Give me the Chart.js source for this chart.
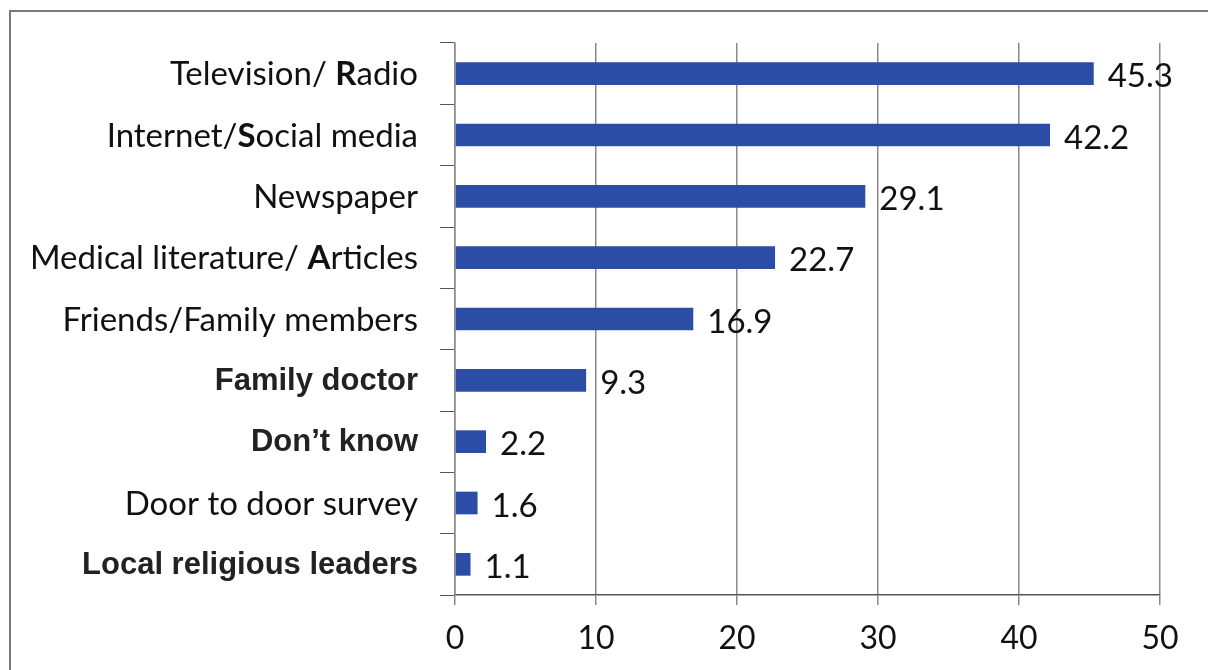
<!DOCTYPE html>
<html lang="en">
<head>
    <meta charset="UTF-8">
    <title>Sources of information</title>
    <script src="https://cdn.jsdelivr.net/npm/chart.js"></script>
    <style>
        body { margin: 0; padding: 0; background: #fff; }
        #wrap { width: 1208px; height: 670px; }
    </style>
</head>
<body>
    <div id="wrap"><canvas id="sourceChart" width="1208" height="670"></canvas></div>

    <script>
        // Data
        const categories = [
            'Television/ Radio', 'Internet/Social media', 'Newspaper',
            'Medical literature/ Articles', 'Friends/Family members',
            'Family doctor', 'Don\u2019t know', 'Door to door survey',
            'Local religious leaders'
        ];
        const percentages = [45.3, 42.2, 29.1, 22.7, 16.9, 9.3, 2.2, 1.6, 1.1];
        const xTicks = [0, 10, 20, 30, 40, 50];

        // label styling seen in the original
        const boldRows = [5, 6, 8];                 // whole label in Arial bold
        const boldLetter = { 0: 'R', 1: 'S', 3: 'A' }; // one bold capital after the slash

        const normalFont = '33px Lato';
        const letterFont = 'bold 33px Lato';
        const arialBold = 'bold 31px "Liberation Sans"';

        // gray frame around the whole chart
        const framePlugin = {
            id: 'frame',
            beforeDraw(chart) {
                const ctx = chart.ctx;
                ctx.save();
                ctx.strokeStyle = '#7a7a7a';
                ctx.lineWidth = 2;
                ctx.strokeRect(10, 11, chart.width + 40, chart.height + 40);
                ctx.restore();
            }
        };

        // category labels, drawn by hand so one letter can be bold
        const labelPlugin = {
            id: 'labels',
            afterDraw(chart) {
                const ctx = chart.ctx;
                const y = chart.scales.y;
                const right = y.right - 15 - 22;
                ctx.save();
                ctx.textBaseline = 'middle';
                categories.forEach((text, i) => {
                    const py = y.getPixelForValue(i) + 1;
                    let parts;
                    if (boldRows.includes(i)) {
                        parts = [[text, arialBold, '#222']];
                    } else if (boldLetter[i]) {
                        const p = text.indexOf(boldLetter[i], text.indexOf('/'));
                        parts = [[text.slice(0, p), normalFont, '#111'],
                                 [text[p], letterFont, '#111'],
                                 [text.slice(p + 1), normalFont, '#111']];
                    } else {
                        parts = [[text, normalFont, '#111']];
                    }
                    let total = 0;
                    parts.forEach(pt => { ctx.font = pt[1]; total += ctx.measureText(pt[0]).width; });
                    let x = right - total;
                    ctx.textAlign = 'left';
                    parts.forEach(pt => {
                        ctx.font = pt[1];
                        ctx.fillStyle = pt[2];
                        ctx.fillText(pt[0], x, py);
                        x += ctx.measureText(pt[0]).width;
                    });
                });
                ctx.restore();
            }
        };

        // numbers at the end of each bar
        const valuePlugin = {
            id: 'values',
            afterDatasetsDraw(chart) {
                const ctx = chart.ctx;
                ctx.save();
                ctx.font = '33px Lato';
                ctx.fillStyle = '#111';
                ctx.textBaseline = 'middle';
                chart.getDatasetMeta(0).data.forEach((bar, i) => {
                    ctx.fillText(percentages[i].toFixed(1), bar.x + 14, bar.y + 3);
                });
                ctx.restore();
            }
        };

        new Chart(document.getElementById('sourceChart'), {
            type: 'bar',
            data: {
                labels: categories,
                datasets: [{
                    data: percentages,
                    backgroundColor: '#2b4da6',
                    borderWidth: 0,
                    barPercentage: 0.37,
                    categoryPercentage: 1.0
                }]
            },
            options: {
                indexAxis: 'y',
                responsive: false,
                animation: false,
                layout: { padding: { top: 43, right: 48, left: 0, bottom: 0 } },
                plugins: {
                    legend: { display: false },
                    tooltip: { enabled: false }
                },
                scales: {
                    x: {
                        min: 0,
                        max: 50,
                        afterBuildTicks: s => { s.ticks = xTicks.map(v => ({ value: v })); },
                        afterFit: s => { s.height = 75; },
                        grid: { color: '#8a8a8a', lineWidth: 1.5, tickLength: 10 },
                        border: { color: '#555', width: 1.5 },
                        ticks: { color: '#111', font: { family: 'Lato', size: 32 }, padding: 14 }
                    },
                    y: {
                        afterFit: s => { s.width = 455; },
                        grid: { drawOnChartArea: false, color: '#555', tickLength: 15 },
                        border: { color: '#8a8a8a', width: 1.5 },
                        ticks: { color: 'rgba(0,0,0,0)', padding: 22 }
                    }
                }
            },
            plugins: [framePlugin, labelPlugin, valuePlugin]
        });
    </script>
</body>
</html>
